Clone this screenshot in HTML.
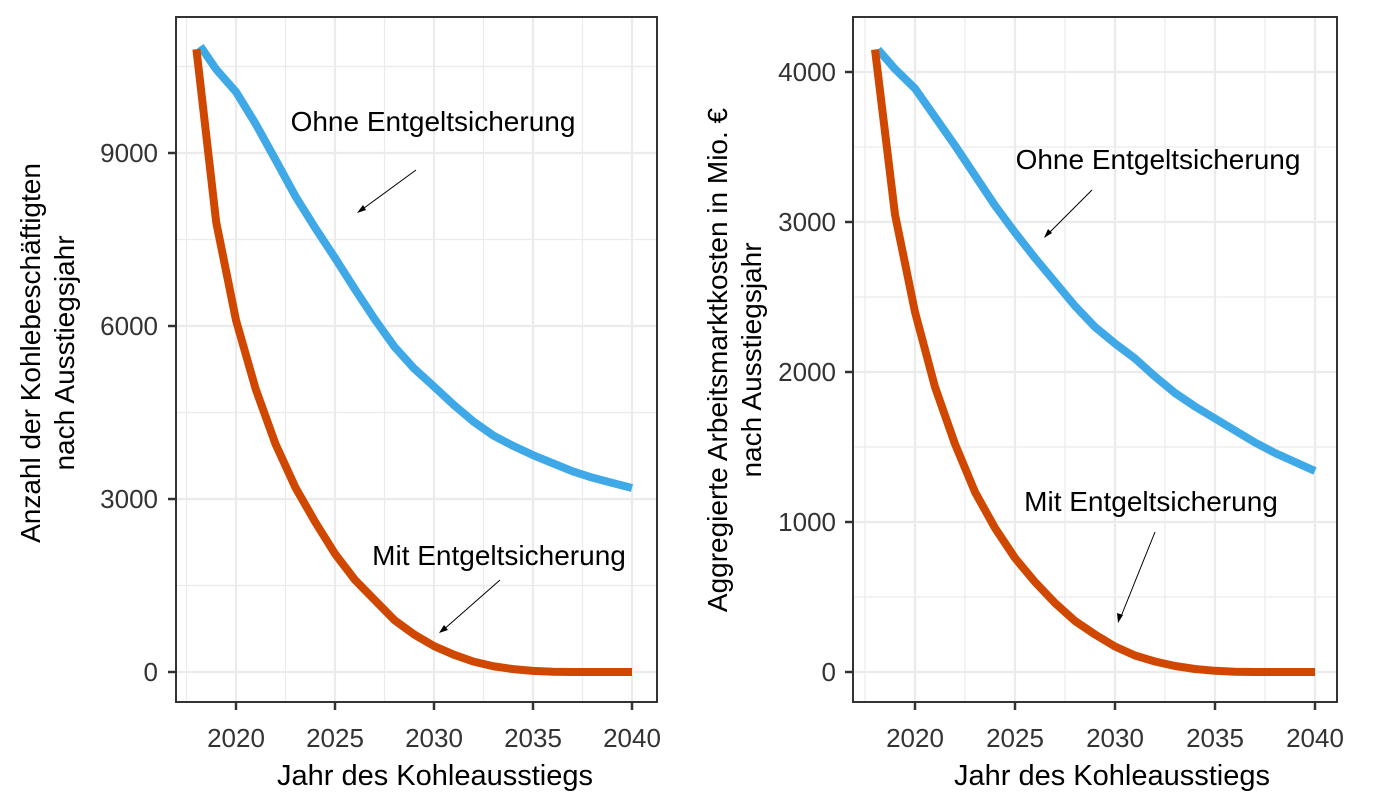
<!DOCTYPE html>
<html><head><meta charset="utf-8"><style>
body{margin:0;background:#fff;}
svg{display:block;font-family:"Liberation Sans",sans-serif;}
</style></head><body>
<svg width="1377" height="810" viewBox="0 0 1377 810" xmlns="http://www.w3.org/2000/svg">
<!-- LEFT PANEL -->
<g stroke="#ebebeb" stroke-width="1.2">
 <line x1="186.5" y1="17" x2="186.5" y2="702"/><line x1="285.5" y1="17" x2="285.5" y2="702"/><line x1="384.5" y1="17" x2="384.5" y2="702"/><line x1="483.5" y1="17" x2="483.5" y2="702"/><line x1="582.5" y1="17" x2="582.5" y2="702"/>
 <line x1="176" y1="585.5" x2="657" y2="585.5"/><line x1="176" y1="412.5" x2="657" y2="412.5"/><line x1="176" y1="239.5" x2="657" y2="239.5"/><line x1="176" y1="66.5" x2="657" y2="66.5"/>
</g>
<g stroke="#ebebeb" stroke-width="2.2">
 <line x1="236" y1="17" x2="236" y2="702"/><line x1="335" y1="17" x2="335" y2="702"/><line x1="434" y1="17" x2="434" y2="702"/><line x1="533" y1="17" x2="533" y2="702"/><line x1="632" y1="17" x2="632" y2="702"/>
 <line x1="176" y1="672" x2="657" y2="672"/><line x1="176" y1="499" x2="657" y2="499"/><line x1="176" y1="326" x2="657" y2="326"/><line x1="176" y1="153" x2="657" y2="153"/>
</g>
<g transform="translate(196.4,672) scale(19.8,-57.67)" fill="none" stroke-width="8" stroke-linejoin="round">
 <path vector-effect="non-scaling-stroke" stroke="#3fa9e8" d="M0.2,10.85 L1,10.45 2,10.06 3,9.5 4,8.88 5,8.25 6,7.7 7,7.18 8,6.64 9,6.12 10,5.64 11,5.26 12,4.95 13,4.63 14,4.34 15,4.1 16,3.92 17,3.76 18,3.62 19,3.48 20,3.37 21,3.28 22,3.19"/>
 <path vector-effect="non-scaling-stroke" stroke="#d04800" d="M0,10.8 L1,7.8 2,6.1 3,4.9 4,3.95 5,3.2 6,2.6 7,2.05 8,1.6 9,1.25 10,0.9 11,0.65 12,0.45 13,0.3 14,0.18 15,0.1 16,0.05 17,0.02 18,0.005 19,0 20,0 21,0 22,0"/>
</g>
<rect x="176" y="17" width="481" height="685" fill="none" stroke="#333" stroke-width="2"/>
<g stroke="#333" stroke-width="2.5">
 <line x1="168" y1="672" x2="176" y2="672"/><line x1="168" y1="499" x2="176" y2="499"/><line x1="168" y1="326" x2="176" y2="326"/><line x1="168" y1="153" x2="176" y2="153"/>
 <line x1="236" y1="702" x2="236" y2="710"/><line x1="335" y1="702" x2="335" y2="710"/><line x1="434" y1="702" x2="434" y2="710"/><line x1="533" y1="702" x2="533" y2="710"/><line x1="632" y1="702" x2="632" y2="710"/>
</g>
<g font-size="26" fill="#333" text-anchor="end">
 <text x="158" y="681">0</text><text x="158" y="508">3000</text><text x="158" y="335">6000</text><text x="158" y="162">9000</text>
</g>
<g font-size="26" fill="#333" text-anchor="middle">
 <text x="236" y="747">2020</text><text x="335" y="747">2025</text><text x="434" y="747">2030</text><text x="533" y="747">2035</text><text x="632" y="747">2040</text>
</g>
<text x="435" y="785" font-size="29" text-anchor="middle" fill="#000">Jahr des Kohleausstiegs</text>
<g font-size="28" text-anchor="middle" fill="#000">
 <text transform="translate(40,353) rotate(-90)">Anzahl der Kohlebeschäftigten</text>
 <text transform="translate(74,353) rotate(-90)">nach Ausstiegsjahr</text>
</g>
<text x="433" y="131" font-size="28" text-anchor="middle">Ohne Entgeltsicherung</text>
<text x="499" y="565" font-size="28" text-anchor="middle">Mit Entgeltsicherung</text>
<g stroke="#000" stroke-width="1">
 <line x1="416" y1="170" x2="360" y2="211"/><line x1="500" y1="580" x2="442" y2="631"/>
</g>
<polygon points="357,213 363,205 366,210" fill="#000"/>
<polygon points="439,633 444,625 448,630" fill="#000"/>

<!-- RIGHT PANEL -->
<g stroke="#ebebeb" stroke-width="1.2">
 <line x1="865" y1="17" x2="865" y2="702"/><line x1="965" y1="17" x2="965" y2="702"/><line x1="1065" y1="17" x2="1065" y2="702"/><line x1="1165" y1="17" x2="1165" y2="702"/><line x1="1265" y1="17" x2="1265" y2="702"/>
 <line x1="853" y1="597" x2="1337" y2="597"/><line x1="853" y1="447" x2="1337" y2="447"/><line x1="853" y1="297" x2="1337" y2="297"/><line x1="853" y1="147" x2="1337" y2="147"/>
</g>
<g stroke="#ebebeb" stroke-width="2.2">
 <line x1="915" y1="17" x2="915" y2="702"/><line x1="1015" y1="17" x2="1015" y2="702"/><line x1="1115" y1="17" x2="1115" y2="702"/><line x1="1215" y1="17" x2="1215" y2="702"/><line x1="1315" y1="17" x2="1315" y2="702"/>
 <line x1="853" y1="672" x2="1337" y2="672"/><line x1="853" y1="522" x2="1337" y2="522"/><line x1="853" y1="372" x2="1337" y2="372"/><line x1="853" y1="222" x2="1337" y2="222"/><line x1="853" y1="72" x2="1337" y2="72"/>
</g>
<g transform="translate(875,672) scale(20,-150)" fill="none" stroke-width="8" stroke-linejoin="round">
 <path vector-effect="non-scaling-stroke" stroke="#3fa9e8" d="M0.15,4.15 L1,4.02 2,3.89 3,3.7 4,3.51 5,3.31 6,3.11 7,2.93 8,2.76 9,2.6 10,2.44 11,2.3 12,2.19 13,2.09 14,1.97 15,1.86 16,1.77 17,1.69 18,1.61 19,1.53 20,1.46 21,1.4 22,1.34"/>
 <path vector-effect="non-scaling-stroke" stroke="#d04800" d="M0,4.15 L1,3.05 2,2.4 3,1.9 4,1.52 5,1.2 6,0.96 7,0.76 8,0.6 9,0.46 10,0.34 11,0.25 12,0.17 13,0.11 14,0.07 15,0.04 16,0.02 17,0.008 18,0.002 19,0 20,0 21,0 22,0"/>
</g>
<rect x="853" y="17" width="484" height="685" fill="none" stroke="#333" stroke-width="2"/>
<g stroke="#333" stroke-width="2.5">
 <line x1="845" y1="672" x2="853" y2="672"/><line x1="845" y1="522" x2="853" y2="522"/><line x1="845" y1="372" x2="853" y2="372"/><line x1="845" y1="222" x2="853" y2="222"/><line x1="845" y1="72" x2="853" y2="72"/>
 <line x1="915" y1="702" x2="915" y2="710"/><line x1="1015" y1="702" x2="1015" y2="710"/><line x1="1115" y1="702" x2="1115" y2="710"/><line x1="1215" y1="702" x2="1215" y2="710"/><line x1="1315" y1="702" x2="1315" y2="710"/>
</g>
<g font-size="26" fill="#333" text-anchor="end">
 <text x="836" y="681">0</text><text x="836" y="531">1000</text><text x="836" y="381">2000</text><text x="836" y="231">3000</text><text x="836" y="81">4000</text>
</g>
<g font-size="26" fill="#333" text-anchor="middle">
 <text x="915" y="747">2020</text><text x="1015" y="747">2025</text><text x="1115" y="747">2030</text><text x="1215" y="747">2035</text><text x="1315" y="747">2040</text>
</g>
<text x="1112" y="785" font-size="29" text-anchor="middle" fill="#000">Jahr des Kohleausstiegs</text>
<g font-size="28" text-anchor="middle" fill="#000">
 <text transform="translate(727,360) rotate(-90)">Aggregierte Arbeitsmarktkosten in Mio. €</text>
 <text transform="translate(761,360) rotate(-90)">nach Ausstiegsjahr</text>
</g>
<text x="1158" y="169" font-size="28" text-anchor="middle">Ohne Entgeltsicherung</text>
<text x="1151" y="511" font-size="28" text-anchor="middle">Mit Entgeltsicherung</text>
<g stroke="#000" stroke-width="1">
 <line x1="1092" y1="190" x2="1047" y2="235"/><line x1="1155" y1="532" x2="1120" y2="619"/>
</g>
<polygon points="1044,238 1048,229 1052,233" fill="#000"/>
<polygon points="1118,623 1117,613 1123,615" fill="#000"/>
</svg>
</body></html>
